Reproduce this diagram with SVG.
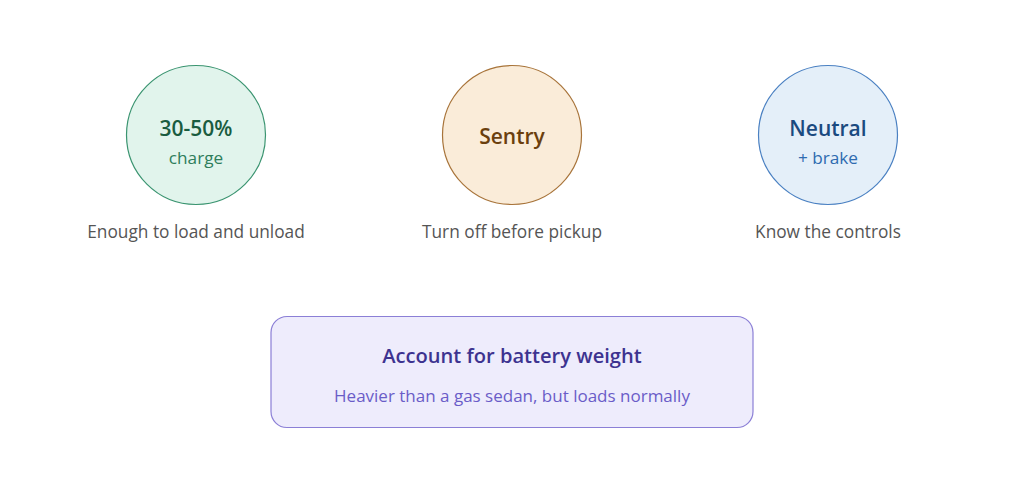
<svg xmlns="http://www.w3.org/2000/svg" width="1024" height="482" viewBox="0 0 1024 482">
<style>
text{font-family:"Open Sans","Noto Sans","DejaVu Sans",sans-serif;text-anchor:middle}
.t{font-weight:600;font-size:21px}
.s{font-size:17.2px}
.lab{font-size:17.3px;fill:#555555}
.bt{font-weight:600;font-size:20.1px;fill:#3d3390}
.bs{font-size:17px;fill:#6a5cc8}
</style>
<rect width="1024" height="482" fill="#ffffff"/>
<g id="connectors"></g>
<g id="node-charge">
<circle cx="196" cy="135" r="69.5" fill="#e1f4ec" stroke="#3a9470" stroke-width="1.2"/>
<text x="196" y="136" class="t" fill="#1a5c40">30-50%</text>
<text x="196" y="164" class="s" fill="#2e7d5b">charge</text>
<text x="196" y="238" class="lab">Enough to load and unload</text>
</g>
<g id="node-sentry">
<circle cx="512" cy="135" r="69.5" fill="#faecd9" stroke="#a8743a" stroke-width="1.2"/>
<text x="512" y="144" class="t" fill="#6b3f0e">Sentry</text>
<text x="512" y="238" class="lab">Turn off before pickup</text>
</g>
<g id="node-neutral">
<circle cx="828" cy="135" r="69.5" fill="#e4eff9" stroke="#4a80c2" stroke-width="1.2"/>
<text x="828" y="136" class="t" fill="#1a4a80">Neutral</text>
<text x="828" y="164" class="s" fill="#2e6bb0">+ brake</text>
<text x="828" y="238" class="lab">Know the controls</text>
</g>
<g id="node-weight">
<rect x="271" y="316.5" width="482" height="111" rx="16" fill="#eeecfc" stroke="#8b7fd6" stroke-width="1.2"/>
<text x="512" y="363" class="bt">Account for battery weight</text>
<text x="512" y="402" class="bs">Heavier than a gas sedan, but loads normally</text>
</g>
</svg>
